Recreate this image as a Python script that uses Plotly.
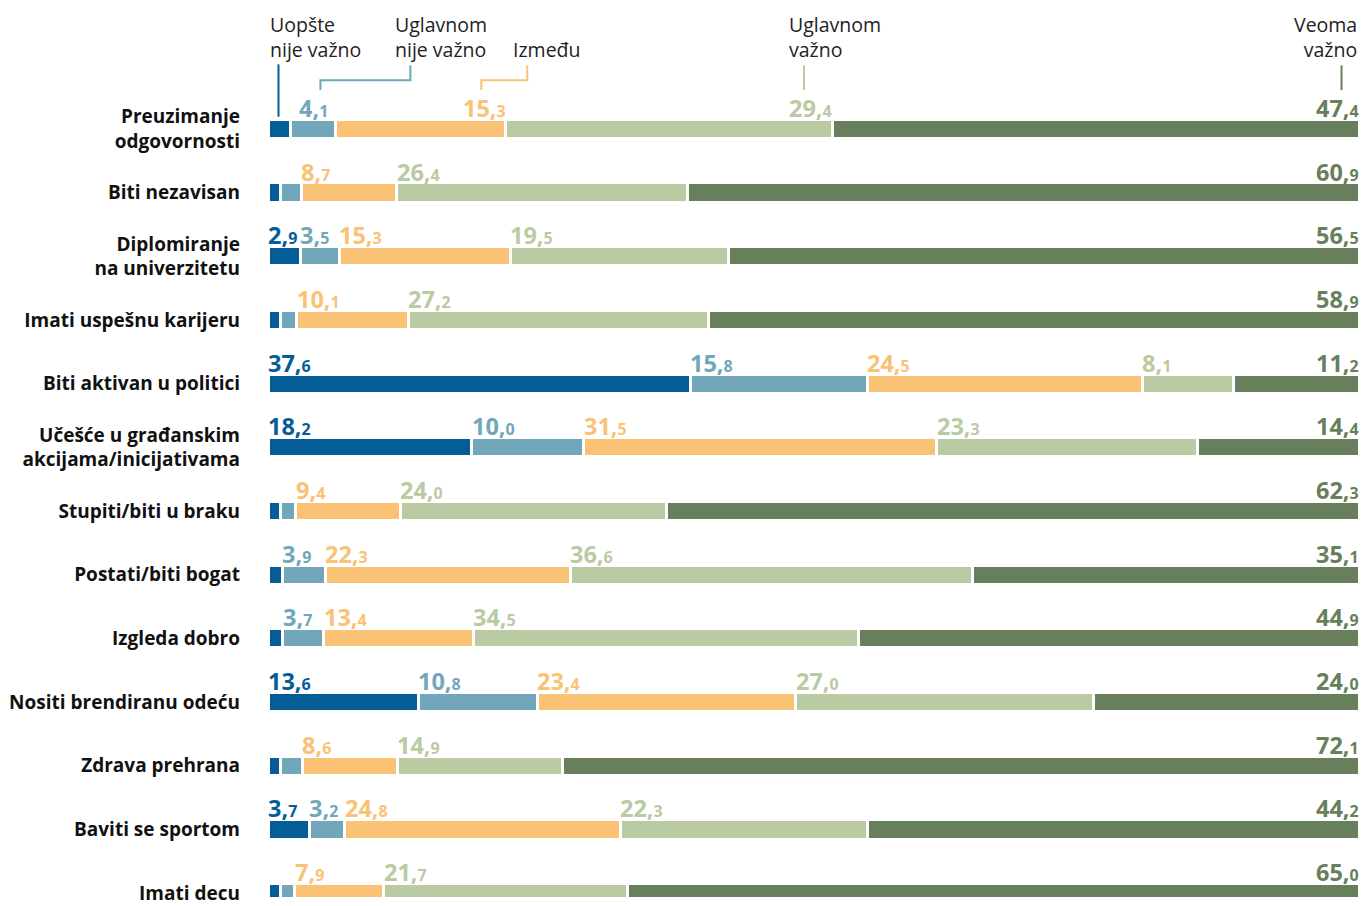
import plotly.graph_objects as go

# Categories (top to bottom)
categories = [
    "Preuzimanje<br>odgovornosti",
    "Biti nezavisan",
    "Diplomiranje<br>na univerzitetu",
    "Imati uspešnu karijeru",
    "Biti aktivan u politici",
    "Učešće u građanskim<br>akcijama/inicijativama",
    "Stupiti/biti u braku",
    "Postati/biti bogat",
    "Izgleda dobro",
    "Nositi brendiranu odeću",
    "Zdrava prehrana",
    "Baviti se sportom",
    "Imati decu",
]

# Shares in % per answer (small unlabeled values)
uopste_nije = [2.0, 1.1, 2.9, 1.1, 37.6, 18.2, 1.1, 1.3, 1.3, 13.6, 1.1, 3.7, 1.1]
uglavnom_nije = [4.1, 1.9, 3.5, 1.5, 15.8, 10.0, 1.4, 3.9, 3.7, 10.8, 2.0, 3.2, 1.3]
izmedju = [15.3, 8.7, 15.3, 10.1, 24.5, 31.5, 9.4, 22.3, 13.4, 23.4, 8.6, 24.8, 7.9]
uglavnom_vazno = [29.4, 26.4, 19.5, 27.2, 8.1, 23.3, 24.0, 36.6, 34.5, 27.0, 14.9, 22.3, 21.7]
veoma_vazno = [47.4, 60.9, 56.5, 58.9, 11.2, 14.4, 62.3, 35.1, 44.9, 24.0, 72.1, 44.2, 65.0]

series = [uopste_nije, uglavnom_nije, izmedju, uglavnom_vazno, veoma_vazno]
series_names = ["Uopšte nije važno", "Uglavnom nije važno", "Između", "Uglavnom važno", "Veoma važno"]
colors = ["#045d97", "#71a6bb", "#f9c274", "#bacaa3", "#687f5b"]

FONT = "Open Sans"
W, H = 1362, 906
L, R, T, B = 267.5, 2.5, 97, 0


def px_x(px):
    return (px - L) / (W - L - R)


def px_y(py):
    return (H - B - py) / (H - T - B)


# rows are rescaled so each bar fills the full width
totals = [sum(s[i] for s in series) for i in range(len(categories))]
norm = [[s[i] / totals[i] * 100 for i in range(len(categories))] for s in series]


def fmt(v):
    whole, dec = f"{v:.1f}".split(".")
    return f"<b>{whole},<span style='font-size:16px'>{dec}</span></b>"


fig = go.Figure()
for name, vals, col in zip(series_names, norm, colors):
    fig.add_trace(go.Bar(
        y=categories, x=vals, name=name, orientation="h",
        marker=dict(color=col, line=dict(color="white", width=3)),
        width=0.30, hoverinfo="skip", showlegend=False,
    ))

# value labels above the segments
annotations = []
for i, cat in enumerate(categories):
    start = 0
    for k, (raw, vals, col) in enumerate(zip(series, norm, colors)):
        v = raw[i]
        seg = vals[i]
        if v >= 2.5:
            if k == 4:
                x, anchor = 100, "right"
            elif i == 0 and k == 1:
                x, anchor = start + seg / 2, "center"
            elif i == 0:
                x, anchor = start + seg, "right"
            else:
                x, anchor = start, "left"
            annotations.append(dict(
                x=x, y=cat, xref="x", yref="y", text=fmt(v), showarrow=False,
                xanchor=anchor, yanchor="bottom", yshift=3,
                xshift=-2 if anchor == "left" else 2 if anchor == "right" else 0,
                font=dict(family=FONT, size=23.5, color=col),
            ))
        start += seg

# legend headings
legend_text = [
    ("Uopšte<br>nije važno", 268, "left"),
    ("Uglavnom<br>nije važno", 393, "left"),
    ("Između", 511, "left"),
    ("Uglavnom<br>važno", 787, "left"),
    ("Veoma<br>važno", 1360, "right"),
]
for txt, px, anchor in legend_text:
    annotations.append(dict(
        x=px_x(px), y=px_y(65), xref="paper", yref="paper", text=txt, showarrow=False,
        xanchor=anchor, yanchor="bottom", align=anchor,
        font=dict(family=FONT, size=19.5, color="#222222"),
    ))

shapes = [
    dict(type="line", xref="paper", yref="paper", x0=px_x(278), x1=px_x(278), y0=px_y(64), y1=px_y(117),
         line=dict(color=colors[0], width=2)),
    dict(type="path", xref="paper", yref="paper",
         path=f"M {px_x(410)} {px_y(65)} L {px_x(410)} {px_y(80)} L {px_x(320)} {px_y(80)} L {px_x(320)} {px_y(90)}",
         line=dict(color=colors[1], width=2)),
    dict(type="path", xref="paper", yref="paper",
         path=f"M {px_x(527)} {px_y(65)} L {px_x(527)} {px_y(80)} L {px_x(481)} {px_y(80)} L {px_x(481)} {px_y(90)}",
         line=dict(color=colors[2], width=2)),
    dict(type="line", xref="paper", yref="paper", x0=px_x(804), x1=px_x(804), y0=px_y(65), y1=px_y(90),
         line=dict(color=colors[3], width=2)),
    dict(type="line", xref="paper", yref="paper", x0=px_x(1342), x1=px_x(1342), y0=px_y(65), y1=px_y(90),
         line=dict(color=colors[4], width=2)),
]

fig.update_layout(
    barmode="stack",
    width=W, height=H,
    margin=dict(l=L, r=R, t=T, b=B),
    paper_bgcolor="white", plot_bgcolor="white",
    annotations=annotations,
    shapes=shapes,
    xaxis=dict(range=[0, 100], visible=False, fixedrange=True),
    yaxis=dict(
        range=[12.06, -0.5], showgrid=False, zeroline=False, ticks="",
        ticklabelstandoff=27, fixedrange=True,
        tickfont=dict(family=FONT, size=19, color="#111111", weight=700),
    ),
    font=dict(family=FONT),
)

fig.write_html(
    "out.html",
    config={"displayModeBar": False},
    post_script="document.body.style.margin='0';document.body.style.overflow='hidden';",
)
